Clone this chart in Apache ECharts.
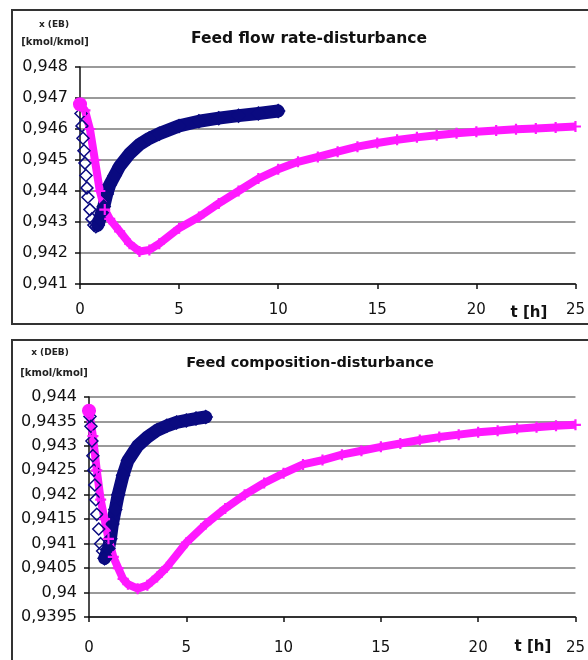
<!DOCTYPE html>
<html>
<head>
<meta charset="utf-8">
<script src="https://cdn.jsdelivr.net/npm/echarts@6/dist/echarts.min.js"></script>
<style>
html, body { margin: 0; padding: 0; background: #fff; }
#chart { width: 588px; height: 660px; }
</style>
</head>
<body>
<div id="chart"></div>
<script>
// time axis ticks
var tTicks = [0, 5, 10, 15, 20, 25];

// feed flow rate disturbance, x(EB)
var topBlueDropT = [0, 0.05, 0.1, 0.15, 0.2, 0.25, 0.3, 0.35, 0.4, 0.5, 0.6, 0.7, 0.8, 0.9];
var topBlueDropX = [0.9468, 0.9465, 0.9461, 0.9457, 0.9453, 0.9449, 0.9445, 0.9441, 0.9438, 0.9434, 0.9431, 0.9429, 0.94285, 0.9429];
var topBlueRiseT = [0.9, 1.0, 1.1, 1.2, 1.35, 1.5, 1.75, 2.0, 2.5, 3.0, 3.5, 4.0, 5.0, 6.0, 7.0, 8.0, 9.0, 10.0];
var topBlueRiseX = [0.9429, 0.9431, 0.9433, 0.9435, 0.9439, 0.9442, 0.9445, 0.9448, 0.9452, 0.9455, 0.9457, 0.94585, 0.9461, 0.94625, 0.94635, 0.94643, 0.9465, 0.94658];
var topPinkT = [0, 0.25, 0.5, 0.75, 1.0, 1.25, 1.5, 2.0, 2.5, 3.0, 3.5, 4.0, 5.0, 6.0, 7.0, 8.0, 9.0, 10.0, 11, 12, 13, 14, 15, 16, 17, 18, 19, 20, 21, 22, 23, 24, 25];
var topPinkX = [0.9468, 0.9466, 0.9460, 0.9450, 0.9440, 0.9434, 0.9431, 0.9427, 0.9423, 0.94205, 0.9421, 0.9423, 0.9428, 0.94316, 0.9436, 0.9440, 0.9444, 0.9447, 0.94494, 0.9451, 0.94527, 0.94543, 0.94555, 0.94565, 0.94573, 0.9458, 0.94586, 0.94591, 0.94595, 0.94599, 0.94602, 0.94605, 0.94608];

// feed composition disturbance, x(DEB)
var botBlueDropT = [0, 0.05, 0.1, 0.15, 0.2, 0.25, 0.3, 0.35, 0.4, 0.5, 0.6, 0.7, 0.8];
var botBlueDropX = [0.94372, 0.9436, 0.9434, 0.9431, 0.9428, 0.9425, 0.9422, 0.9419, 0.9416, 0.9413, 0.9410, 0.94085, 0.9407];
var botBlueRiseT = [0.8, 0.9, 1.0, 1.1, 1.2, 1.35, 1.5, 1.75, 2.0, 2.5, 3.0, 3.5, 4.0, 4.5, 5.0, 5.5, 6.0];
var botBlueRiseX = [0.9407, 0.94072, 0.9409, 0.9411, 0.9414, 0.9417, 0.9420, 0.9424, 0.9427, 0.9430, 0.94318, 0.94332, 0.94341, 0.94348, 0.94352, 0.94356, 0.94359];
var botPinkT = [0, 0.2, 0.4, 0.6, 0.8, 1.0, 1.25, 1.5, 1.75, 2.0, 2.5, 3.0, 3.5, 4.0, 5.0, 6.0, 7.0, 8.0, 9.0, 10.0, 11, 12, 13, 14, 15, 16, 17, 18, 19, 20, 21, 22, 23, 24, 25];
var botPinkX = [0.94372, 0.9432, 0.9425, 0.9419, 0.9415, 0.9411, 0.94073, 0.9405, 0.94028, 0.94017, 0.94008, 0.94015, 0.94032, 0.94052, 0.94102, 0.9414, 0.94172, 0.942, 0.94224, 0.94244, 0.94262, 0.94271, 0.94282, 0.9429, 0.94298, 0.94305, 0.94312, 0.94318, 0.94323, 0.94328, 0.94331, 0.94335, 0.94338, 0.94341, 0.94343];

var NAVY = '#0a0a80';
var PINK = '#ff19ff';
var FONT = 'DejaVu Sans';
var PLUS = 'path://M4,0H6V4H10V6H6V10H4V6H0V4H4Z';

function pairs(ts, xs) {
	return ts.map(function(t, i) { return [t, xs[i]]; });
}

function pinkData(ts, xs) {
	var d = pairs(ts, xs);
	d[0] = { value: d[0], symbol: 'circle', symbolSize: 14 };
	return d;
}

function commaLabel(v) {
	return String(parseFloat(v.toFixed(4))).replace('.', ',');
}

function xAxisOf(idx, margin) {
	return {
		type: 'value', gridIndex: idx, min: 0, max: 25, interval: 5,
		axisLine: { lineStyle: { color: '#111', width: 1.5 } },
		axisTick: { show: true, length: 5, lineStyle: { color: '#111', width: 1.5 } },
		axisLabel: { color: '#111', fontFamily: FONT, fontSize: 15, margin: margin,
			formatter: function(v) { return tTicks.indexOf(v) >= 0 ? String(v) : ''; } },
		splitLine: { show: false }
	};
}

function yAxisOf(idx, min, max, step) {
	return {
		type: 'value', gridIndex: idx, min: min, max: max, interval: step,
		axisLine: { show: true, lineStyle: { color: '#111', width: 1.5 } },
		axisTick: { show: true, length: 5, lineStyle: { color: '#111', width: 1.5 } },
		axisLabel: { color: '#111', fontFamily: FONT, fontSize: 16, margin: 12, formatter: commaLabel },
		splitLine: { show: true, lineStyle: { color: '#9a9a9a', width: 2 } }
	};
}

var chart = echarts.init(document.getElementById('chart'), null, { renderer: 'canvas' });
chart.setOption({
	backgroundColor: '#fff',
	animation: false,
	title: [{
		text: 'Feed flow rate-disturbance', left: 304, top: 26, textAlign: 'center',
		textStyle: { fontFamily: FONT, fontSize: 15.5, fontWeight: 'bold', color: '#111' }
	}, {
		text: 'Feed composition-disturbance', left: 305, top: 351, textAlign: 'center',
		textStyle: { fontFamily: FONT, fontSize: 14.5, fontWeight: 'bold', color: '#111' }
	}],
	grid: [
		{ left: 80, right: 8, top: 67, height: 217 },
		{ left: 89, right: 8, top: 397, height: 220 }
	],
	xAxis: [xAxisOf(0, 19), xAxisOf(1, 24)],
	yAxis: [yAxisOf(0, 0.941, 0.948, 0.001), yAxisOf(1, 0.9395, 0.944, 0.0005)],
	graphic: [
		{ type: 'rect', shape: { x: 12, y: 10, width: 620, height: 314 }, style: { fill: 'none', stroke: '#333', lineWidth: 2 } },
		{ type: 'rect', shape: { x: 12, y: 340, width: 620, height: 340 }, style: { fill: 'none', stroke: '#333', lineWidth: 2 } },
		{ type: 'text', x: 54, y: 25, style: { text: 'x (EB)', font: 'bold 9px ' + FONT, fill: '#222', textAlign: 'center', textVerticalAlign: 'middle' } },
		{ type: 'text', x: 55, y: 42, style: { text: '[kmol/kmol]', font: 'bold 10px ' + FONT, fill: '#222', textAlign: 'center', textVerticalAlign: 'middle' } },
		{ type: 'text', x: 50, y: 353, style: { text: 'x (DEB)', font: 'bold 9px ' + FONT, fill: '#222', textAlign: 'center', textVerticalAlign: 'middle' } },
		{ type: 'text', x: 54, y: 373, style: { text: '[kmol/kmol]', font: 'bold 10px ' + FONT, fill: '#222', textAlign: 'center', textVerticalAlign: 'middle' } },
		{ type: 'text', x: 529, y: 313, style: { text: 't [h]', font: 'bold 15px ' + FONT, fill: '#111', textAlign: 'center', textVerticalAlign: 'middle' } },
		{ type: 'text', x: 533, y: 647, style: { text: 't [h]', font: 'bold 15px ' + FONT, fill: '#111', textAlign: 'center', textVerticalAlign: 'middle' } }
	],
	series: [
		{ type: 'line', xAxisIndex: 0, yAxisIndex: 0, data: pairs(topBlueDropT, topBlueDropX),
			lineStyle: { width: 0 }, symbol: 'diamond', symbolSize: 12,
			itemStyle: { color: 'rgba(0,0,0,0)', borderColor: NAVY, borderWidth: 1.5 } },
		{ type: 'line', xAxisIndex: 0, yAxisIndex: 0, data: pairs(topBlueRiseT, topBlueRiseX),
			lineStyle: { color: NAVY, width: 13, cap: 'round', join: 'round' }, symbol: 'diamond', symbolSize: 15,
			itemStyle: { color: NAVY } },
		{ type: 'line', xAxisIndex: 0, yAxisIndex: 0, data: pinkData(topPinkT, topPinkX),
			lineStyle: { color: PINK, width: 8, join: 'round' }, symbol: PLUS, symbolSize: 11,
			itemStyle: { color: PINK } },
		{ type: 'line', xAxisIndex: 1, yAxisIndex: 1, data: pairs(botBlueDropT, botBlueDropX),
			lineStyle: { width: 0 }, symbol: 'diamond', symbolSize: 12,
			itemStyle: { color: 'rgba(0,0,0,0)', borderColor: NAVY, borderWidth: 1.5 } },
		{ type: 'line', xAxisIndex: 1, yAxisIndex: 1, data: pairs(botBlueRiseT, botBlueRiseX),
			lineStyle: { color: NAVY, width: 13, cap: 'round', join: 'round' }, symbol: 'diamond', symbolSize: 15,
			itemStyle: { color: NAVY } },
		{ type: 'line', xAxisIndex: 1, yAxisIndex: 1, data: pinkData(botPinkT, botPinkX),
			lineStyle: { color: PINK, width: 8, join: 'round' }, symbol: PLUS, symbolSize: 11,
			itemStyle: { color: PINK } }
	]
});
</script>
</body>
</html>
